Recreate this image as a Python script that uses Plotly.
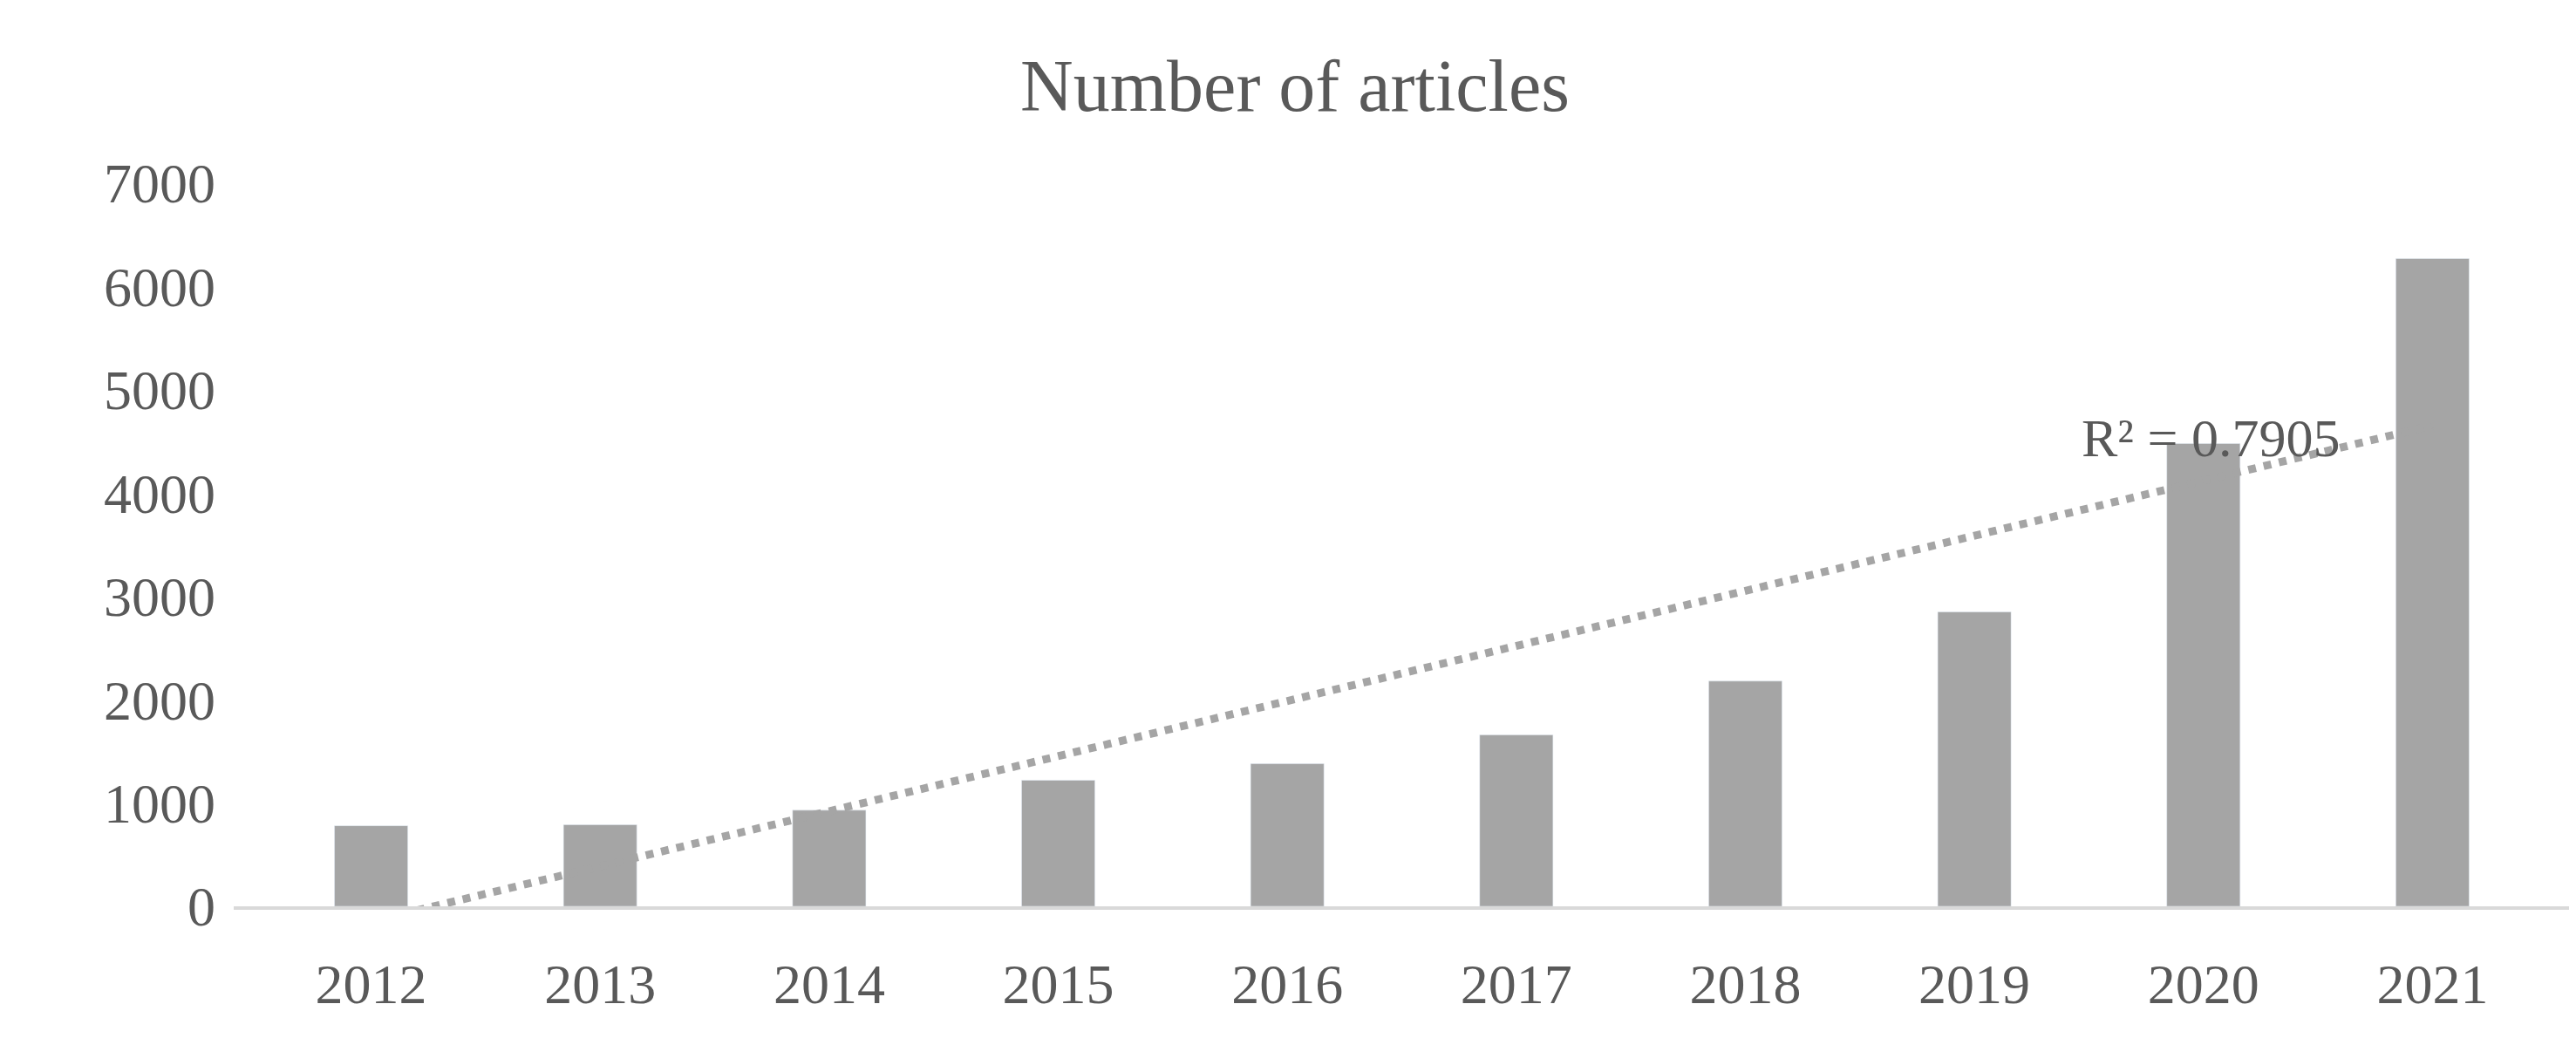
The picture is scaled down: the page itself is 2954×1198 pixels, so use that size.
import numpy as np
import plotly.graph_objects as go

years = [2012, 2013, 2014, 2015, 2016, 2017, 2018, 2019, 2020, 2021]
articles = [780, 790, 930, 1220, 1380, 1660, 2180, 2850, 4480, 6270]

# linear trendline (Excel-style)
x = np.arange(len(years))
slope, intercept = np.polyfit(x, articles, 1)
trend = slope * x + intercept

font = "Liberation Serif"
grey = "#595959"

fig = go.Figure()
fig.add_bar(x=years, y=articles, marker_color="#a5a5a5", width=0.32)
fig.add_scatter(
    x=years, y=trend, mode="lines",
    line=dict(color="#a5a5a5", width=9, dash="dot"),
)

fig.add_annotation(
    x=2020.03, y=4534, text="R² = 0.7905", showarrow=False,
    font=dict(family=font, size=62, color=grey),
)

fig.update_layout(
    title=dict(text="Number of articles", x=0.5, y=0.95, xanchor="center",
               font=dict(family=font, size=84, color=grey)),
    width=2954, height=1198,
    margin=dict(l=260, r=15, t=202, b=167),
    plot_bgcolor="white", paper_bgcolor="white",
    showlegend=False,
    font=dict(family=font, size=64, color=grey),
)
fig.update_xaxes(
    tickvals=years, ticktext=[str(y) for y in years],
    range=[2011.4, 2021.6], showgrid=False, ticks="",
    showline=True, linecolor="#d9d9d9", linewidth=4, ticklabelstandoff=30,
)
fig.update_yaxes(
    range=[0, 7000], dtick=1000, showgrid=False, zeroline=False,
    showline=False, ticklabelstandoff=20,
)

fig.write_html("out.html")
